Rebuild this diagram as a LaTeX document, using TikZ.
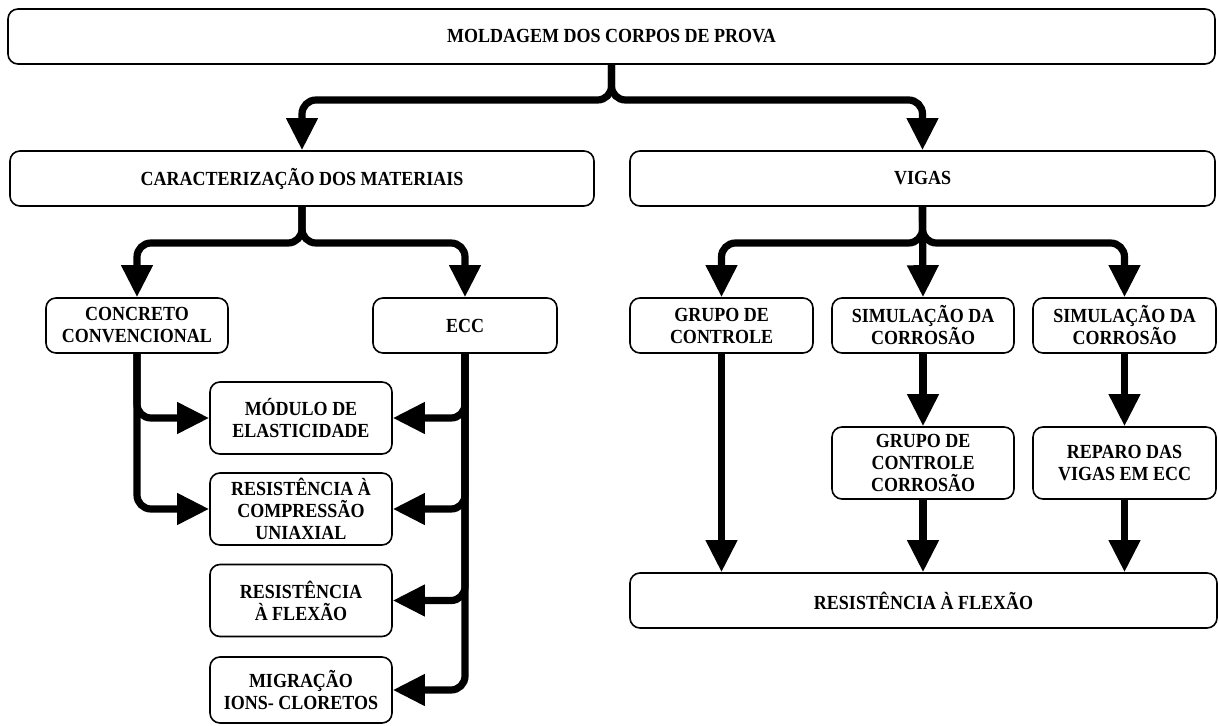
\documentclass[tikz,border=0pt]{standalone}
\usepackage{fontspec}
\setmainfont{Liberation Serif}[FakeStretch=0.9]
\usetikzlibrary{arrows.meta}

\begin{document}
\begin{tikzpicture}[x=0.5pt, y=-0.5pt,
  caixa/.style={draw, line width=0.8pt, rounded corners=5pt, align=center, inner sep=1pt,
    font=\fontsize{10}{11}\selectfont\bfseries, minimum height=27.5pt},
  seta/.style={line width=3.6pt, rounded corners=7pt, -{Triangle[length=16pt,width=15pt]}}]
\useasboundingbox (0,0) rectangle (1219,726);
\node[caixa, minimum width=603.5pt] (moldagem) at (611.5,36.5) {MOLDAGEM DOS CORPOS DE PROVA};
\node[caixa, minimum width=292pt] (caract) at (302,178.5) {CARACTERIZAÇÃO DOS MATERIAIS};
\node[caixa, minimum width=292.5pt] (vigas) at (922.5,178.5) {VIGAS};
\node[caixa, minimum width=91pt] (concreto) at (137,325.5) {CONCRETO\\CONVENCIONAL};
\node[caixa, minimum width=92pt] (ecc) at (465,325.5) {ECC};
\node[caixa, minimum width=91pt, minimum height=36pt] (modulo) at (301,418) {MÓDULO DE\\ELASTICIDADE};
\node[caixa, minimum width=91pt, minimum height=36pt] (compressao) at (301,509) {RESISTÊNCIA À\\COMPRESSÃO\\UNIAXIAL};
\node[caixa, minimum width=91pt, minimum height=36pt] (flexao) at (301,600.5) {RESISTÊNCIA\\À FLEXÃO};
\node[caixa, minimum width=91pt, minimum height=33pt] (migracao) at (301,690) {MIGRAÇÃO\\IONS- CLORETOS};
\node[caixa, minimum width=91.5pt] (grupo) at (721.5,325.5) {GRUPO DE\\CONTROLE};
\node[caixa, minimum width=91pt] (simA) at (923,325.5) {SIMULAÇÃO DA\\CORROSÃO};
\node[caixa, minimum width=91.5pt] (simB) at (1124.5,325.5) {SIMULAÇÃO DA\\CORROSÃO};
\node[caixa, minimum width=91pt, minimum height=36pt] (grupocorr) at (923,463) {GRUPO DE\\CONTROLE\\CORROSÃO};
\node[caixa, minimum width=91.5pt, minimum height=36pt] (reparo) at (1124.5,463) {REPARO DAS\\VIGAS EM ECC};
\node[caixa, minimum width=293.5pt] (flexvigas) at (923.5,600.5) {RESISTÊNCIA À FLEXÃO};
\coordinate (r1) at (611.5,100);
\coordinate (r2) at (302,243);
\coordinate (r3) at (922.5,243);
\draw[seta] (moldagem.south) -- (r1) -| (caract.north);
\draw[seta] (moldagem.south) -- (r1) -| (vigas.north);
\draw[seta] (caract.south) -- (r2) -| (concreto.north);
\draw[seta] (caract.south) -- (r2) -| (ecc.north);
\draw[seta] (vigas.south) -- (r3) -| (grupo.north);
\draw[seta] (vigas.south) -- (simA.north);
\draw[seta] (vigas.south) -- (r3) -| (simB.north);
\draw[seta] (concreto.south) |- (modulo.west);
\draw[seta] (concreto.south) |- (compressao.west);
\draw[seta] (ecc.south) |- (modulo.east);
\draw[seta] (ecc.south) |- (compressao.east);
\draw[seta] (ecc.south) |- (flexao.east);
\draw[seta] (ecc.south) |- (migracao.east);
\draw[seta] (grupo.south) -- (grupo.south |- flexvigas.north);
\draw[seta] (simA.south) -- (grupocorr.north);
\draw[seta] (grupocorr.south) -- (grupocorr.south |- flexvigas.north);
\draw[seta] (simB.south) -- (reparo.north);
\draw[seta] (reparo.south) -- (reparo.south |- flexvigas.north);
\end{tikzpicture}
\end{document}
